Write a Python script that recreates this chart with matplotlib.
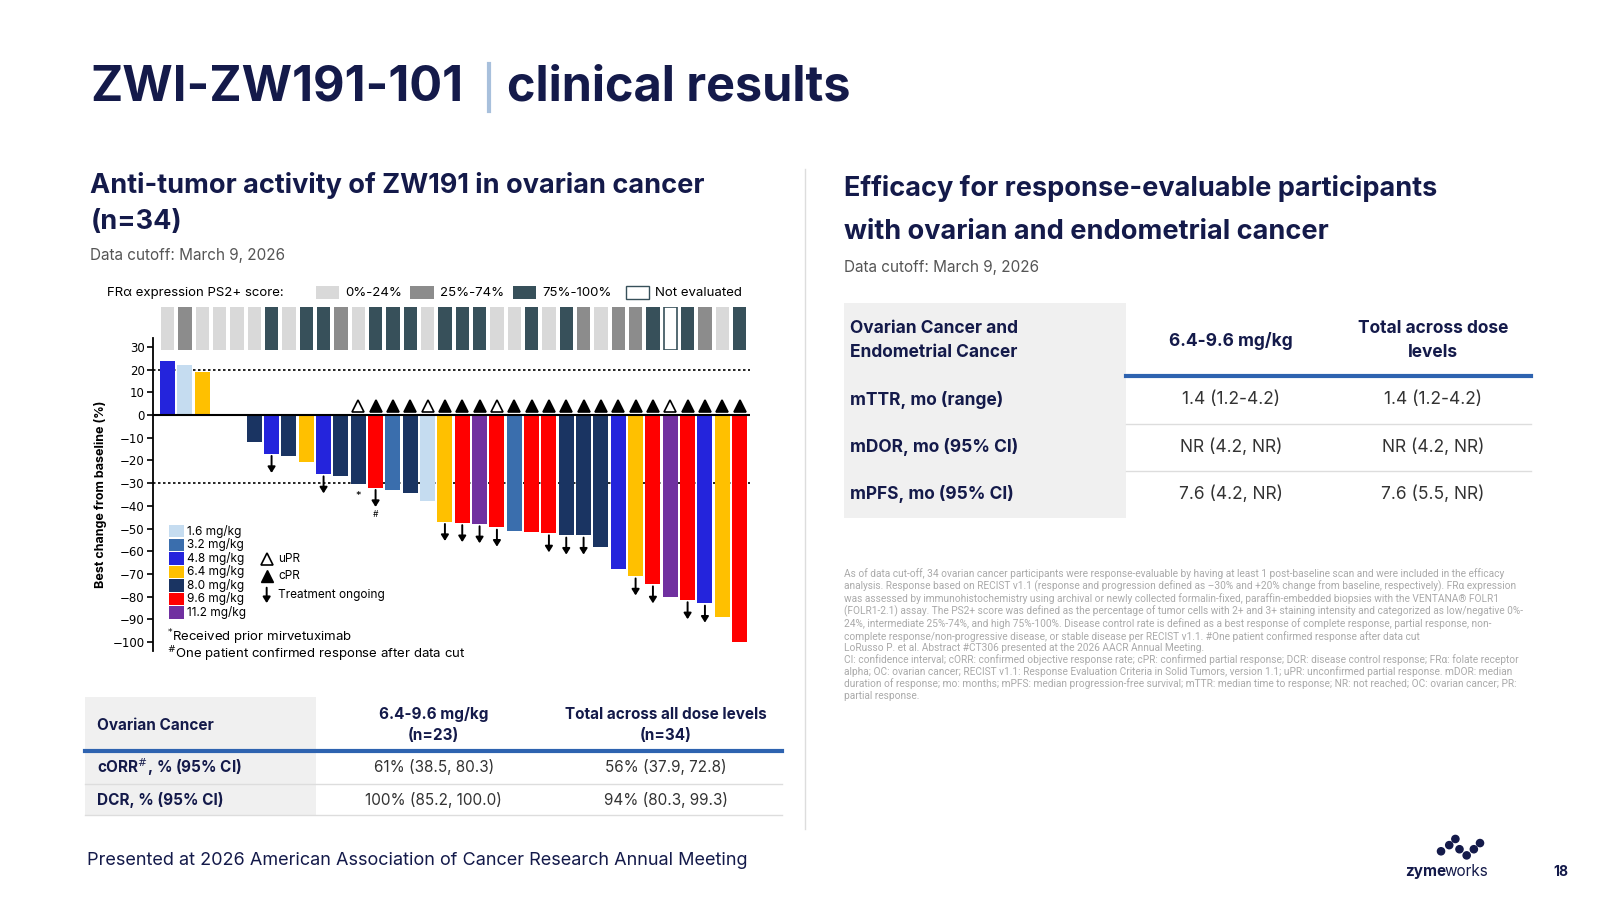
import matplotlib
matplotlib.use("Agg")
import matplotlib.pyplot as plt
from matplotlib.patches import Rectangle, Circle
from matplotlib.lines import Line2D

plt.rcParams['font.family'] = ['Inter', 'DejaVu Sans']

# ---------------- data ----------------
values = [24, 22, 19, 0, 0, -12, -17, -18, -20.5, -26, -27, -30.5, -32, -33, -34.5, -38,
          -47, -47.5, -48, -49.5, -51, -51.5, -52, -53, -53, -58, -68, -71, -74.5, -80,
          -81.5, -83, -89, -100]
doses = ["4.8", "1.6", "6.4", None, None, "8.0", "4.8", "8.0", "6.4", "4.8", "8.0", "8.0", "9.6",
         "3.2", "8.0", "1.6", "6.4", "9.6", "11.2", "9.6", "3.2", "9.6", "9.6", "8.0", "8.0",
         "8.0", "4.8", "6.4", "9.6", "11.2", "9.6", "4.8", "6.4", "9.6"]
ps2 = ["low", "mid", "low", "low", "low", "low", "high", "low", "high", "high", "mid", "low",
       "high", "high", "high", "low", "high", "high", "high", "low", "low", "high", "low", "high",
       "mid", "low", "mid", "mid", "high", "ne", "high", "mid", "low", "high"]
response = [None]*11 + ["u", "c", "c", "c", "u", "c", "c", "c", "u", "c", "c", "c", "c", "c",
                        "c", "c", "c", "c", "u", "c", "c", "c", "c"]
ongoing = [7, 10, 13, 17, 18, 19, 20, 23, 24, 25, 28, 29, 31, 32, 34]  # 1-based patient index
dose_labels = ["1.6", "3.2", "4.8", "6.4", "8.0", "9.6", "11.2"]
dose_colors = {"1.6": "#c5dcf0", "3.2": "#3a6ead", "4.8": "#2424dc", "6.4": "#ffc000",
               "8.0": "#1a3462", "9.6": "#ff0000", "11.2": "#7030a0"}
ps2_colors = {"low": "#d9d9d9", "mid": "#8c8c8c", "high": "#37505a", "ne": "white"}
ps2_labels = [("low", "0%-24%"), ("mid", "25%-74%"), ("high", "75%-100%"), ("ne", "Not evaluated")]

NAVY = "#141a4a"
W, H = 1560, 877.5
fig = plt.figure(figsize=(16, 9), dpi=100)

def X(x): return x / W
def Y(y): return 1 - y / H
def T(x, y, s, **kw):
    kw.setdefault("color", NAVY)
    return fig.text(X(x), Y(y), s, **kw)
def R(x0, y0, x1, y1, **kw):
    fig.patches.append(Rectangle((X(x0), Y(y1)), X(x1) - X(x0), Y(y0) - Y(y1),
                                 transform=fig.transFigure, **kw))
def L(x0, y0, x1, y1, **kw):
    fig.lines.append(Line2D([X(x0), X(x1)], [Y(y0), Y(y1)], transform=fig.transFigure, **kw))

# ---------------- titles ----------------
T(88, 85, "ZWI-ZW191-101", fontsize=35, fontweight="bold", va="center")
L(477, 62, 477, 108, color="#a8c0dc", lw=3)
T(494, 85, "clinical results", fontsize=35, fontweight="bold", va="center")
T(88, 181, "Anti-tumor activity of ZW191 in ovarian cancer", fontsize=19.5, fontweight="bold", va="center")
T(88, 216, "(n=34)", fontsize=19.5, fontweight="bold", va="center")
T(88, 249, "Data cutoff: March 9, 2026", fontsize=11, color="#555555", va="center")
T(823, 184, "Efficacy for response-evaluable participants", fontsize=19.5, fontweight="bold", va="center")
T(823, 226, "with ovarian and endometrial cancer", fontsize=19.5, fontweight="bold", va="center")
T(823, 261, "Data cutoff: March 9, 2026", fontsize=11, color="#555555", va="center")
L(785, 165, 785, 808, color="#dddddd", lw=1)

# ---------------- waterfall chart ----------------
ax = fig.add_axes([153/1600, 1-651/900, (750-153)/1600, (651-338)/900])
ax.set_xlim(-0.84, 33.6)
ax.set_ylim(-104, 34)
for i, (v, d) in enumerate(zip(values, doses)):
    if d is not None:
        ax.bar(i, v, width=0.87, color=dose_colors[d], zorder=2)
ax.axhline(0, color="black", lw=1.5, zorder=3)
ax.axhline(20, color="black", lw=1.2, ls=(0, (1.5, 1.5)), zorder=1)
ax.axhline(-30, color="black", lw=1.2, ls=(0, (1.5, 1.5)), zorder=1)
for i, r in enumerate(response):
    if r:
        ax.plot(i, 4, marker="^", ms=8, mfc="black" if r == "c" else "white", mec="black",
                mew=1.2, zorder=4)
arrow_kw = dict(arrowstyle="-|>,head_width=0.22,head_length=0.35", color="black", lw=1.4,
                shrinkA=0, shrinkB=0)
for p in ongoing:
    v = values[p-1]
    ax.annotate("", xy=(p-1, v-8.5), xytext=(p-1, v-1), arrowprops=arrow_kw)
ax.text(11, values[11]-3, "*", ha="center", va="top", fontsize=8)
ax.text(12, values[12]-10, "#", ha="center", va="top", fontsize=6, fontstyle="italic")
for s in ["top", "right", "bottom"]:
    ax.spines[s].set_visible(False)
ax.spines["left"].set_linewidth(1.3)
ax.set_xticks([])
ax.set_yticks(range(-100, 31, 10))
ax.set_yticklabels([str(t).replace("-", "\u2212") for t in range(-100, 31, 10)], fontsize=8.5,
                   family=["DejaVu Sans"])
ax.tick_params(axis="y", length=4, width=1.2, pad=2)
ax.set_ylabel("Best change from baseline (%)", fontsize=9, fontweight="bold", labelpad=4, color="black")
ax.patch.set_alpha(0)

# PS2 score boxes
bx = fig.add_axes([153/1600, 1-350/900, (750-153)/1600, (350-307)/900])
bx.set_xlim(-0.84, 33.6)
bx.set_ylim(0, 1)
for i, c in enumerate(ps2):
    bx.bar(i, 1, width=0.77, bottom=0, color=ps2_colors[c],
           edgecolor="#37505a" if c == "ne" else "none", lw=1.2)
bx.axis("off")

# PS2 legend
T(104, 286, "FR\u03b1 expression PS2+ score:", fontsize=9.5, color="black", va="center")
for (k, lab), x0 in zip(ps2_labels, [308, 400, 500, 610]):
    R(x0, 279, x0+23, 292, facecolor=ps2_colors[k], edgecolor="#37505a" if k == "ne" else "none", lw=1)
    T(x0+29, 286, lab, fontsize=9.5, color="black", va="center")

# dose legend
for j, d in enumerate(dose_labels):
    y = 518 + j*13.2
    R(165, y-6, 179, y+6, facecolor=dose_colors[d], edgecolor="none")
    T(182, y, f"{d} mg/kg", fontsize=8.5, color="black", va="center")
# symbol legend
ax_f = fig.add_axes([0, 0, 1, 1]); ax_f.set_xlim(0, W); ax_f.set_ylim(H, 0); ax_f.axis("off")
ax_f.plot(260, 545, marker="^", ms=8, mfc="white", mec="black", mew=1.2)
ax_f.plot(260, 562, marker="^", ms=8, mfc="black", mec="black")
ax_f.annotate("", xy=(260, 588), xytext=(260, 573), arrowprops=arrow_kw)
T(271, 545, "uPR", fontsize=8.5, color="black", va="center")
T(271, 562, "cPR", fontsize=8.5, color="black", va="center")
T(271, 580, "Treatment ongoing", fontsize=8.5, color="black", va="center")
T(163, 621, "$^{*}$Received prior mirvetuximab", fontsize=9.5, color="black", va="center")
T(163, 638, "$^{\\#}$One patient confirmed response after data cut", fontsize=9.5, color="black", va="center")

# ---------------- bottom-left table ----------------
R(83, 680, 308, 795, facecolor="#f0f0f0", edgecolor="none")
T(95, 707, "Ovarian Cancer", fontsize=11, fontweight="bold", va="center")
T(423, 707, "6.4-9.6 mg/kg\n(n=23)", fontsize=11, fontweight="bold", ha="center", va="center", linespacing=1.5)
T(649, 707, "Total across all dose levels\n(n=34)", fontsize=11, fontweight="bold", ha="center", va="center", linespacing=1.5)
L(83, 732, 762, 732, color="#2e63b0", lw=3)
L(83, 764, 762, 764, color="#dddddd", lw=1)
L(83, 795, 762, 795, color="#dddddd", lw=1)
T(95, 748, "cORR$^{\\#}$, % (95% CI)", fontsize=11, fontweight="bold", va="center")
T(95, 780, "DCR, % (95% CI)", fontsize=11, fontweight="bold", va="center")
T(423, 748, "61% (38.5, 80.3)", fontsize=11, ha="center", va="center", color="#333333")
T(649, 748, "56% (37.9, 72.8)", fontsize=11, ha="center", va="center", color="#333333")
T(423, 780, "100% (85.2, 100.0)", fontsize=11, ha="center", va="center", color="#333333")
T(649, 780, "94% (80.3, 99.3)", fontsize=11, ha="center", va="center", color="#333333")

# ---------------- right table ----------------
R(823, 295, 1098, 505, facecolor="#f0f0f0", edgecolor="none")
T(829, 332, "Ovarian Cancer and\nEndometrial Cancer", fontsize=12.5, fontweight="bold", va="center", linespacing=1.6)
T(1200, 332, "6.4-9.6 mg/kg", fontsize=12.5, fontweight="bold", ha="center", va="center")
T(1397, 332, "Total across dose\nlevels", fontsize=12.5, fontweight="bold", ha="center", va="center", linespacing=1.6)
L(1098, 367, 1493, 367, color="#2e63b0", lw=3)
L(1098, 413, 1493, 413, color="#dddddd", lw=1)
L(1098, 459, 1493, 459, color="#dddddd", lw=1)
rows = [("mTTR, mo (range)", "1.4 (1.2-4.2)", "1.4 (1.2-4.2)"),
        ("mDOR, mo (95% CI)", "NR (4.2, NR)", "NR (4.2, NR)"),
        ("mPFS, mo (95% CI)", "7.6 (4.2, NR)", "7.6 (5.5, NR)")]
for k, (a, b, c) in enumerate(rows):
    y = 390 + 46*k
    T(829, y, a, fontsize=12.5, fontweight="bold", va="center")
    T(1200, y, b, fontsize=12.5, ha="center", va="center", color="#333333")
    T(1397, y, c, fontsize=12.5, ha="center", va="center", color="#333333")

foot = ("As of data cut-off, 34 ovarian cancer participants were response-evaluable by having at least 1 post-baseline scan and were included in the efficacy\n"
        "analysis. Response based on RECIST v1.1 (response and progression defined as \u201330% and +20% change from baseline, respectively). FR\u03b1 expression\n"
        "was assessed by immunohistochemistry using archival or newly collected formalin-fixed, paraffin-embedded biopsies with the VENTANA\u00ae FOLR1\n"
        "(FOLR1-2.1) assay. The PS2+ score was defined as the percentage of tumor cells with 2+ and 3+ staining intensity and categorized as low/negative 0%-\n"
        "24%, intermediate 25%-74%, and high 75%-100%. Disease control rate is defined as a best response of complete response, partial response, non-\n"
        "complete response/non-progressive disease, or stable disease per RECIST v1.1. #One patient confirmed response after data cut\n"
        "LoRusso P. et al. Abstract #CT306 presented at the 2026 AACR Annual Meeting.\n"
        "CI: confidence interval; cORR: confirmed objective response rate; cPR: confirmed partial response; DCR: disease control response; FR\u03b1: folate receptor\n"
        "alpha; OC: ovarian cancer; RECIST v1.1: Response Evaluation Criteria in Solid Tumors, version 1.1; uPR: unconfirmed partial response. mDOR: median\n"
        "duration of response; mo: months; mPFS: median progression-free survival; mTTR: median time to response; NR: not reached; OC: ovarian cancer; PR:\n"
        "partial response.")
T(823, 554, foot, fontsize=7.3, color="#aaaaaa", va="top", linespacing=1.15, family=["Roboto", "DejaVu Sans"])

# ---------------- footer ----------------
T(85, 839, "Presented at 2026 American Association of Cancer Research Annual Meeting", fontsize=13, va="center")
for (cx, cy) in [(1405, 830), (1413, 824), (1419, 818), (1423, 828), (1430, 834), (1437, 828), (1443, 822)]:
    ax_f.add_patch(Circle((cx, cy), 3.5, color=NAVY))
T(1370, 850, "zyme", fontsize=11, fontweight="bold", va="center")
T(1408, 850, "works", fontsize=11, va="center")
T(1515, 850, "18", fontsize=10, fontweight="bold", va="center")

fig.savefig("out.png", dpi=100)
